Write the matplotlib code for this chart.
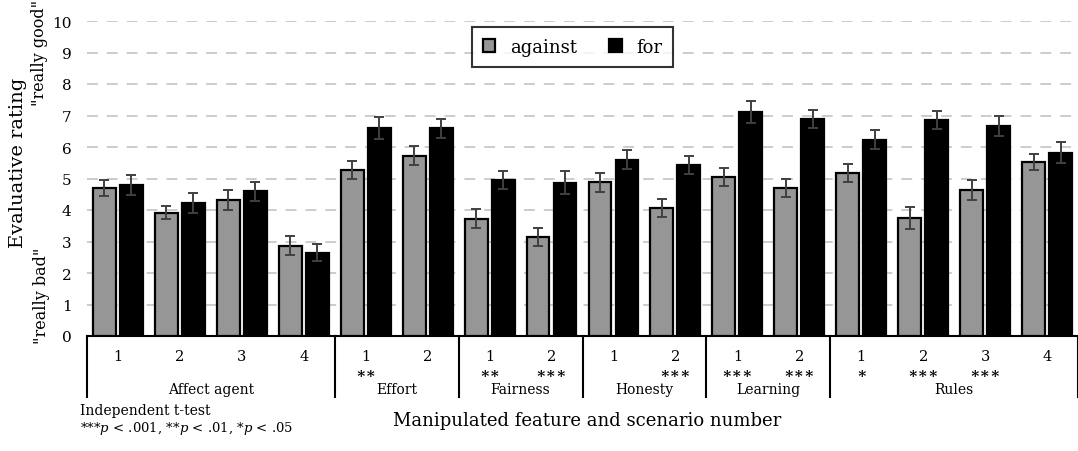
import numpy as np
import matplotlib
matplotlib.use("Agg")
import matplotlib.pyplot as plt

plt.rcParams['font.family'] = 'DejaVu Serif'
plt.rcParams['mathtext.fontset'] = 'dejavuserif'

# data
features = ['Affect agent', 'Effort', 'Fairness', 'Honesty', 'Learning', 'Rules']
n_scen = [4, 2, 2, 2, 2, 4]
scen_labels = ['1', '2', '3', '4', '1', '2', '1', '2', '1', '2', '1', '2', '1', '2', '3', '4']
stars = ['', '', '', '', '**', '', '**', '***', '', '***', '***', '***', '*', '***', '***', '']
against = [4.70, 3.92, 4.31, 2.87, 5.27, 5.73, 3.73, 3.15, 4.88, 4.06, 5.05, 4.69, 5.17, 3.75, 4.63, 5.52]
against_err = [0.24, 0.22, 0.31, 0.29, 0.30, 0.30, 0.29, 0.28, 0.30, 0.28, 0.28, 0.29, 0.28, 0.34, 0.32, 0.25]
for_ = [4.80, 4.22, 4.60, 2.65, 6.60, 6.60, 4.95, 4.87, 5.60, 5.43, 7.10, 6.88, 6.23, 6.85, 6.68, 5.82]
for_err = [0.32, 0.31, 0.30, 0.27, 0.35, 0.30, 0.28, 0.36, 0.29, 0.29, 0.35, 0.29, 0.30, 0.29, 0.32, 0.34]

W, H = 1078, 452
fig = plt.figure(figsize=(W / 100, H / 100), dpi=100)
ax = fig.add_axes([87 / W, (H - 337) / H, (W - 87) / W, 315 / H])

x = np.arange(len(against))
bw = 0.37
off = 0.218
ekw = dict(ecolor='#404040', elinewidth=1.4, capsize=3.5, capthick=1.4)
ax.bar(x - off, against, bw, color='#969696', edgecolor='black', linewidth=1.6,
       yerr=against_err, error_kw=ekw, label='against', zorder=3)
ax.bar(x + off, for_, bw, color='black', edgecolor='black', linewidth=1.6,
       yerr=for_err, error_kw=ekw, label='for', zorder=3)

ax.set_xlim(-0.5, len(x) - 0.5)
ax.set_ylim(0, 10)
ax.set_yticks(range(0, 11))
ax.tick_params(axis='y', length=0, labelsize=11, pad=11)
ax.set_xticks([])
for s in ['top', 'right', 'left']:
    ax.spines[s].set_visible(False)
ax.spines['bottom'].set_linewidth(1.5)
ax.yaxis.grid(True, linestyle=(0, (6, 5)), color='#c8c8c8', linewidth=1.3, zorder=0)
ax.set_axisbelow(True)

# category table under the axis
tr = ax.get_xaxis_transform()
px = 1 / 315
for i, lab in enumerate(scen_labels):
    ax.text(i, -20 * px, lab, transform=tr, ha='center', va='center', fontsize=10.5)
    if stars[i]:
        ax.text(i, -36 * px, '\u2217' * len(stars[i]), transform=tr,
                ha='center', va='center', fontsize=11, fontweight='bold')
edges = np.concatenate([[0], np.cumsum(n_scen)]) - 0.5
for e in edges:
    ax.plot([e, e], [0, -61 * px], transform=tr, color='black', linewidth=1.5, clip_on=False)
for j, f in enumerate(features):
    ax.text((edges[j] + edges[j + 1]) / 2, -53 * px, f, transform=tr,
            ha='center', va='center', fontsize=10)

leg = ax.legend(loc='upper center', bbox_to_anchor=(0.49, 1.01), ncol=2, frameon=True,
                fancybox=False, edgecolor='black', fontsize=13, handlelength=0.7,
                handleheight=0.7, columnspacing=1.8, borderpad=0.6)
leg.get_frame().set_linewidth(1.5)

fig.text(587 / W, 1 - 421 / H, 'Manipulated feature and scenario number',
         ha='center', va='center', fontsize=13)
fig.text(18 / W, 1 - 163 / H, 'Evaluative rating', rotation=90,
         ha='center', va='center', fontsize=14)
fig.text(40 / W, 1 - 53 / H, '"really good"', rotation=90, ha='center', va='center', fontsize=11.5)
fig.text(42 / W, 1 - 296 / H, '"really bad"', rotation=90, ha='center', va='center', fontsize=11.5)
fig.text(80 / W, 1 - 411 / H, 'Independent t-test', ha='left', va='center', fontsize=10)
fig.text(80 / W, 1 - 429 / H,
         r'***$\mathit{p}$ < .001, **$\mathit{p}$ < .01, *$\mathit{p}$ < .05',
         ha='left', va='center', fontsize=9.5)

fig.savefig('out.png', dpi=100)
